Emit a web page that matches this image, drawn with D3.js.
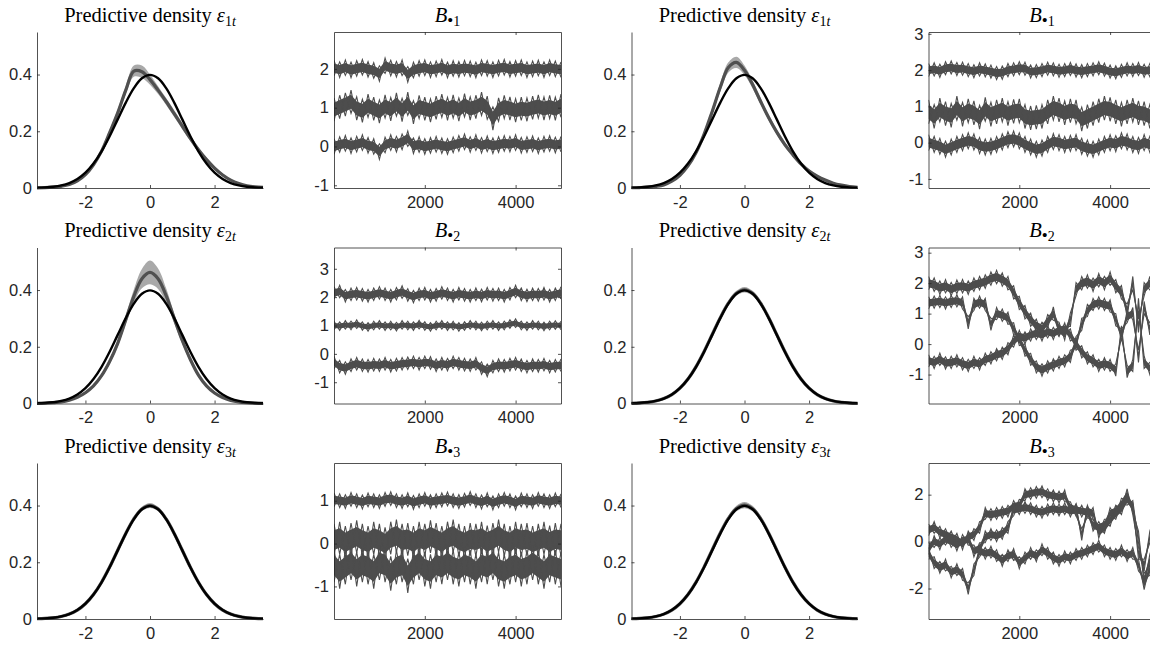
<!DOCTYPE html>
<html>
<head>
<meta charset="utf-8">
<script src="https://cdn.jsdelivr.net/npm/d3@7"></script>
<style>
  body { margin: 0; background: #fff; }
  svg { display: block; }
</style>
</head>
<body>
<script>
// grid of the predictive densities
const densX = [-3.5,-3.25,-3,-2.75,-2.5,-2.25,-2,-1.75,-1.5,-1.25,-1,-0.75,-0.5,-0.25,0,0.25,0.5,0.75,1,1.25,1.5,1.75,2,2.25,2.5,2.75,3,3.25,3.5]
// reference N(0,1) density, tabulated
const normalPdf = [0.0009,0.0020,0.0044,0.0091,0.0175,0.0317,0.0540,0.0863,0.1295,0.1826,0.2420,0.3011,0.3521,0.3867,0.3989,0.3867,0.3521,0.3011,0.2420,0.1826,0.1295,0.0863,0.0540,0.0317,0.0175,0.0091,0.0044,0.0020,0.0009]

// posterior mean of predictive densities + half width of the band
const pred11 = [0.0006,0.0013,0.003,0.006,0.012,0.025,0.047,0.082,0.13,0.195,0.265,0.345,0.412,0.41,0.382,0.345,0.305,0.262,0.218,0.175,0.135,0.1,0.07,0.046,0.028,0.016,0.008,0.004,0.002]
const band11 = [0,0,0.001,0.001,0.002,0.003,0.004,0.006,0.008,0.01,0.012,0.015,0.02,0.022,0.018,0.014,0.012,0.012,0.011,0.01,0.009,0.008,0.007,0.005,0.004,0.003,0.002,0.001,0]
const pred21 = [0.0004,0.001,0.003,0.006,0.012,0.022,0.038,0.062,0.098,0.148,0.212,0.295,0.378,0.44,0.462,0.44,0.38,0.3,0.222,0.155,0.1,0.062,0.037,0.021,0.011,0.0055,0.0027,0.0012,0.0005]
const band21 = [0,0,0.001,0.001,0.002,0.003,0.004,0.005,0.007,0.009,0.012,0.016,0.024,0.034,0.042,0.036,0.026,0.017,0.012,0.009,0.007,0.005,0.004,0.003,0.002,0.001,0.001,0,0]
const pred31 = [0.0009,0.002,0.0044,0.009,0.0173,0.0314,0.0538,0.0862,0.1296,0.1830,0.2426,0.3018,0.3530,0.3878,0.4000,0.3876,0.3527,0.3016,0.2424,0.1828,0.1296,0.0862,0.0539,0.0316,0.0175,0.0091,0.0044,0.002,0.0009]
const band31 = [0,0,0,0.001,0.001,0.001,0.002,0.003,0.003,0.004,0.005,0.006,0.007,0.008,0.009,0.008,0.007,0.006,0.005,0.004,0.003,0.003,0.002,0.001,0.001,0.001,0,0,0]
const pred13 = [0.0008,0.0016,0.003,0.006,0.011,0.024,0.045,0.078,0.125,0.19,0.27,0.355,0.425,0.443,0.415,0.365,0.305,0.248,0.197,0.153,0.117,0.085,0.06,0.042,0.028,0.017,0.01,0.005,0.0025]
const band13 = [0,0,0.001,0.001,0.002,0.003,0.004,0.006,0.008,0.01,0.012,0.015,0.018,0.02,0.017,0.014,0.012,0.011,0.01,0.009,0.008,0.007,0.006,0.005,0.004,0.003,0.002,0.001,0]
const pred23 = [0.0008,0.0019,0.0043,0.0090,0.0174,0.0316,0.0541,0.0866,0.1302,0.1836,0.2432,0.3025,0.3537,0.3886,0.4010,0.3885,0.3535,0.3022,0.2428,0.1832,0.1298,0.0864,0.0540,0.0316,0.0174,0.0090,0.0043,0.0019,0.0008]
const band23 = [0,0,0,0.001,0.001,0.002,0.002,0.003,0.004,0.005,0.006,0.007,0.008,0.009,0.01,0.009,0.008,0.007,0.006,0.005,0.004,0.003,0.002,0.002,0.001,0.001,0,0,0]
const pred33 = [0.0008,0.0019,0.0043,0.0089,0.0172,0.0313,0.0538,0.0864,0.1301,0.1838,0.2437,0.3031,0.3545,0.3893,0.4015,0.3890,0.3540,0.3026,0.2430,0.1833,0.1298,0.0863,0.0539,0.0315,0.0174,0.0090,0.0043,0.0019,0.0008]
const band33 = [0,0,0,0.001,0.001,0.002,0.002,0.003,0.004,0.005,0.006,0.007,0.009,0.01,0.011,0.01,0.009,0.007,0.006,0.005,0.004,0.003,0.002,0.002,0.001,0.001,0,0,0]

const iters = [0,125,250,375,500,625,750,875,1000,1125,1250,1375,1500,1625,1750,1875,2000,2125,2250,2375,2500,2625,2750,2875,3000,3125,3250,3375,3500,3625,3750,3875,4000,4125,4250,4375,4500,4625,4750,4875,5000]

// B.1, left model
const b1L_a = [2.02,1.98,2.03,1.97,2.01,2.04,1.99,1.96,1.88,2.08,2.02,1.99,2.03,1.86,1.97,2.01,2.03,1.98,2.00,2.04,1.97,2.01,1.99,2.02,2.00,1.97,2.03,2.01,1.98,2.02,2.04,1.99,2.01,2.03,1.98,2.00,2.02,1.98,2.03,2.00,1.98]
const b1L_b = [0.95,1.02,1.08,1.15,0.98,0.92,1.05,0.97,0.9,1.03,0.96,1.08,0.94,1.1,0.88,1.02,0.97,0.93,1.0,1.05,0.97,1.03,0.95,1.06,0.98,1.02,1.1,1.0,0.72,0.95,1.02,0.98,0.93,0.97,0.95,1.0,1.03,0.98,1.02,0.97,1.05]
const b1L_c = [0.0,0.05,0.08,0.02,0.06,0.1,0.03,0.0,-0.13,0.04,0.1,0.06,0.12,0.2,0.02,0.05,0.0,0.03,0.06,0.02,0.0,0.04,0.08,0.12,0.05,0.1,0.03,0.07,0.02,0.05,0.08,0.06,0.1,0.03,0.05,0.07,0.02,0.06,0.08,0.04,0.06]
// B.1, right model
const b1R_a = [2.0,2.02,1.98,2.05,2.07,2.03,2.04,2.0,1.97,2.02,1.99,1.96,1.92,1.93,2.0,2.02,2.05,2.04,1.96,1.97,2.0,2.04,2.02,1.98,2.0,2.03,1.99,1.97,2.0,2.02,2.05,2.01,1.96,1.94,1.98,2.02,2.0,2.03,1.98,2.0,2.02]
const b1R_b = [0.85,0.72,0.9,0.8,0.75,0.95,0.78,0.88,0.82,0.7,0.92,0.78,0.85,0.9,0.8,0.86,0.88,0.72,0.68,0.7,0.72,0.85,0.95,0.9,0.82,0.88,0.85,0.65,0.72,0.8,0.88,0.95,0.92,0.85,0.78,0.85,0.9,0.82,0.8,0.72,0.85]
const b1R_c = [0.0,-0.05,-0.1,-0.18,-0.12,-0.05,0.0,0.05,0.02,-0.08,-0.12,-0.1,-0.05,0.02,0.08,0.1,0.05,-0.05,-0.12,-0.18,-0.15,-0.05,0.03,0.0,-0.05,-0.02,0.0,-0.1,-0.15,-0.18,-0.12,-0.05,0.0,-0.03,0.05,0.02,-0.05,-0.08,0.0,-0.05,-0.1]
// B.2
const b2L_a = [2.15,2.2,2.05,2.1,2.12,2.08,2.05,2.1,2.15,2.1,2.05,2.12,2.18,2.08,2.02,2.1,2.12,2.05,2.08,2.15,2.1,2.05,2.12,2.08,2.05,2.1,2.06,2.12,2.08,2.1,2.05,2.12,2.2,2.1,2.06,2.1,2.08,2.12,2.05,2.1,2.15]
const b2L_b = [1.0,0.98,1.02,1.0,1.05,0.98,0.95,1.0,1.02,0.98,1.0,0.96,1.02,1.0,0.98,1.03,0.98,0.95,1.0,1.02,0.98,1.0,0.95,0.98,1.02,1.0,0.97,1.0,1.02,0.98,1.0,1.05,1.08,1.0,0.98,1.02,1.0,0.97,1.0,1.02,1.0]
const b2L_c = [-0.3,-0.45,-0.5,-0.4,-0.35,-0.4,-0.42,-0.38,-0.4,-0.35,-0.42,-0.38,-0.35,-0.33,-0.3,-0.35,-0.3,-0.32,-0.4,-0.35,-0.38,-0.3,-0.35,-0.38,-0.4,-0.35,-0.5,-0.58,-0.45,-0.4,-0.42,-0.38,-0.35,-0.4,-0.45,-0.4,-0.42,-0.38,-0.45,-0.42,-0.4]
const b2R_a = [2.0,1.95,1.85,1.9,1.8,1.88,1.9,1.85,1.95,2.0,2.05,2.15,2.2,2.12,2.0,1.7,1.35,1.05,0.8,0.6,0.5,0.75,1.0,0.5,0.35,0.8,1.8,2.0,2.05,1.95,2.1,2.0,2.15,1.9,1.7,1.1,2.0,0.6,1.8,2.0,1.6]
const b2R_b = [1.35,1.38,1.4,1.35,1.4,1.42,1.35,0.7,1.3,1.38,1.3,0.65,1.0,0.95,0.85,0.5,0.15,-0.2,-0.5,-0.75,-0.85,-0.75,-0.68,-0.6,-0.55,-0.4,0.05,0.65,1.1,1.3,1.35,1.3,1.25,0.8,0.3,0.9,1.0,-0.4,1.2,0.5,1.2]
const b2R_c = [-0.55,-0.6,-0.5,-0.62,-0.6,-0.55,-0.65,-0.7,-0.6,-0.65,-0.5,-0.45,-0.35,-0.3,-0.15,0.1,0.25,0.2,0.3,0.35,0.3,0.4,0.35,0.45,0.5,0.3,0.0,-0.25,-0.45,-0.55,-0.7,-0.65,-0.7,-0.85,0.4,-0.9,-0.7,1.3,-0.6,-0.8,-0.5]
// B.3
const b3L_a = [1.02,1.0,0.98,1.03,1.0,0.97,1.02,1.0,0.98,1.03,1.05,1.0,0.98,1.02,0.96,1.0,1.03,0.98,1.0,1.02,1.04,1.0,0.98,1.01,1.05,1.0,0.97,1.02,0.95,1.0,1.03,1.0,0.95,1.02,1.0,0.98,1.03,1.0,0.98,1.02,1.0]
const b3L_b = [0.08,0.13,0.03,0.1,0.16,0.08,0.03,0.13,0.08,0.0,0.13,0.18,0.08,0.1,0.03,0.13,0.08,0.16,0.1,0.03,0.13,0.18,0.08,0.03,0.1,0.08,0.13,0.04,0.1,0.18,0.08,0.03,0.13,0.08,0.1,0.03,0.08,0.13,0.04,0.1,0.08]
const b3L_c = [-0.5,-0.65,-0.55,-0.45,-0.6,-0.5,-0.55,-0.65,-0.45,-0.5,-0.7,-0.55,-0.5,-0.75,-0.55,-0.45,-0.6,-0.65,-0.5,-0.55,-0.45,-0.55,-0.6,-0.5,-0.55,-0.65,-0.5,-0.55,-0.45,-0.6,-0.65,-0.55,-0.5,-0.6,-0.55,-0.45,-0.55,-0.65,-0.5,-0.55,-0.6]
const b3R_a = [0.5,0.6,0.4,0.3,0.2,0.1,-0.1,0.2,0.3,0.6,1.2,1.15,1.2,1.25,1.3,1.5,1.55,2.0,2.05,2.1,2.12,2.0,1.95,1.9,1.95,1.45,1.35,1.3,1.25,0.7,0.6,0.7,1.2,1.3,1.6,2.0,1.4,-0.5,-1.0,0.2,1.4]
const b3R_b = [-0.3,0.0,-0.1,0.1,0.0,-0.15,0.05,0.1,-0.4,-0.3,0.2,0.3,0.25,0.35,0.6,1.35,1.4,1.45,1.4,1.3,1.25,1.35,1.4,1.35,1.4,1.3,1.35,0.3,1.3,1.2,0.4,0.6,0.9,1.2,1.4,1.8,1.5,0.2,-1.6,-0.8,0.5]
const b3R_c = [-0.5,-0.9,-1.1,-1.0,-1.3,-1.2,-1.4,-2.0,-1.2,-0.4,-0.5,-0.45,-0.6,-0.8,-0.6,-0.55,-0.9,-0.7,-0.5,-0.6,-0.35,-0.5,-0.7,-0.8,-0.65,-0.7,-0.55,-0.5,-0.4,-0.3,-0.2,-0.4,-0.5,-0.55,-0.4,-0.6,-0.5,-1.0,-1.8,-1.2,-0.3]

const spreadB1L = [0.2, 0.3, 0.2]
const spreadB1R = [0.18, 0.33, 0.22]
const spreadB2L = [0.22, 0.15, 0.22]
const spreadB2R = [0.22, 0.2, 0.2]
const spreadB3L = [0.16, 0.38, 0.4]
const spreadB3R = [0.25, 0.25, 0.25]

const W = 1150, H = 646
const colX = [37, 334, 631.5, 928.5]
const rowY = [32, 247.5, 463]
const densW = 226, traceW = 227, panelH = 156
const axisCol = '#262626'
const traceCol = '#4d4d4d'
const sansFont = '"Liberation Sans", Arial, Helvetica, sans-serif'
const serifFont = '"Liberation Serif", "Times New Roman", serif'

const svg = d3.select('body').append('svg')
    .attr('width', W)
    .attr('height', H)

const styleAxis = (g) => {
    g.attr('font-family', sansFont).attr('font-size', 16.5)
    g.selectAll('.domain').attr('stroke', axisCol).attr('stroke-width', 0.8)
    g.selectAll('.tick line').attr('stroke', axisCol).attr('stroke-width', 0.8)
    g.selectAll('.tick text').attr('fill', axisCol)
}

const densityPanel = (col, row, mean, band, k) => {
    let x0 = colX[col], y0 = rowY[row]
    let x = d3.scaleLinear().domain([-3.5, 3.5]).range([x0, x0 + densW])
    let y = d3.scaleLinear().domain([0, 0.55]).range([y0 + panelH, y0])
    let pts = densX.map((v, i) => ({x: v, m: mean[i], b: band[i], n: normalPdf[i]}))
    let g = svg.append('g')

    g.append('path').datum(pts)
        .attr('d', d3.area().x(d => x(d.x)).y0(d => y(d.m - d.b)).y1(d => y(d.m + d.b)).curve(d3.curveCatmullRom))
        .attr('fill', '#a9a9a9')
    g.append('path').datum(pts)
        .attr('d', d3.line().x(d => x(d.x)).y(d => y(d.m)).curve(d3.curveCatmullRom))
        .attr('fill', 'none').attr('stroke', '#505050').attr('stroke-width', 3.2)
    g.append('path').datum(pts)
        .attr('d', d3.line().x(d => x(d.x)).y(d => y(d.n)).curve(d3.curveCatmullRom))
        .attr('fill', 'none').attr('stroke', '#000').attr('stroke-width', 2.4)

    g.append('g').attr('transform', `translate(${x0},0)`)
        .call(d3.axisLeft(y).tickValues([0, 0.2, 0.4]).tickFormat(d => String(d))
            .tickSizeInner(-3).tickSizeOuter(0).tickPadding(5))
        .call(styleAxis)
    g.append('g').attr('transform', `translate(0,${y0 + panelH})`)
        .call(d3.axisBottom(x).tickValues([-2, 0, 2]).tickFormat(d => String(d))
            .tickSizeInner(-3).tickSizeOuter(0).tickPadding(8))
        .call(styleAxis)

    let t = g.append('text')
        .attr('x', x0 + densW / 2).attr('y', y0 - 10.5)
        .attr('text-anchor', 'middle')
        .attr('font-family', serifFont).attr('font-size', 20.5).attr('fill', '#000')
    t.append('tspan').text('Predictive density ')
    t.append('tspan').attr('font-style', 'italic').text('\u03b5')
    t.append('tspan').attr('font-size', 14).attr('dy', 4).text(k)
    t.append('tspan').attr('font-size', 14).attr('font-style', 'italic').text('t')
}

const tracePanel = (col, row, chains, spread, yDomain, yTicks, k) => {
    let x0 = colX[col], y0 = rowY[row]
    let x = d3.scaleLinear().domain([0, 5000]).range([x0, x0 + traceW])
    let y = d3.scaleLinear().domain(yDomain).range([y0 + panelH, y0])
    let clipId = `clip-${col}-${row}`
    svg.append('clipPath').attr('id', clipId)
        .append('rect').attr('x', x0).attr('y', y0).attr('width', traceW).attr('height', panelH)
    let g = svg.append('g')
    let plot = g.append('g').attr('clip-path', `url(#${clipId})`)

    chains.forEach((c, j) => {
        let s = spread[j]
        let pts = iters.map((it, i) => ({it: it, v: c[i], side: i % 2 ? -1 : 1}))
        // solid core of the chain
        plot.append('path').datum(pts)
            .attr('d', d3.area().x(d => x(d.it)).y0(d => y(d.v - 0.6 * s)).y1(d => y(d.v + 0.6 * s)))
            .attr('fill', traceCol)
        // jagged outer edge, alternating between the band limits
        plot.append('path').datum(pts)
            .attr('d', d3.line().x(d => x(d.it)).y(d => y(d.v + d.side * s)))
            .attr('fill', 'none').attr('stroke', traceCol).attr('stroke-width', 1.1)
        plot.append('path').datum(pts)
            .attr('d', d3.line().x(d => x(d.it)).y(d => y(d.v - d.side * s)))
            .attr('fill', 'none').attr('stroke', traceCol).attr('stroke-width', 1.1)
    })

    let xt = [2000, 4000]
    g.append('g').attr('transform', `translate(${x0},0)`)
        .call(d3.axisLeft(y).tickValues(yTicks).tickFormat(d => String(d))
            .tickSizeInner(-3).tickSizeOuter(0).tickPadding(5))
        .call(styleAxis)
    g.append('g').attr('transform', `translate(${x0 + traceW},0)`)
        .call(d3.axisRight(y).tickValues(yTicks).tickFormat('').tickSizeInner(-3).tickSizeOuter(0))
        .call(styleAxis)
    g.append('g').attr('transform', `translate(0,${y0 + panelH})`)
        .call(d3.axisBottom(x).tickValues(xt).tickFormat(d => String(d))
            .tickSizeInner(-3).tickSizeOuter(0).tickPadding(8))
        .call(styleAxis)
    g.append('g').attr('transform', `translate(0,${y0})`)
        .call(d3.axisTop(x).tickValues(xt).tickFormat('').tickSizeInner(-3).tickSizeOuter(0))
        .call(styleAxis)

    let t = g.append('text')
        .attr('x', x0 + traceW / 2).attr('y', y0 - 10.5)
        .attr('text-anchor', 'middle')
        .attr('font-family', serifFont).attr('font-size', 20.5).attr('fill', '#000')
    t.append('tspan').attr('font-style', 'italic').text('B')
    t.append('tspan').attr('font-size', 17).attr('dy', 4).text('\u2022')
    t.append('tspan').attr('font-size', 14).text(k)
}

densityPanel(0, 0, pred11, band11, '1')
densityPanel(0, 1, pred21, band21, '2')
densityPanel(0, 2, pred31, band31, '3')
densityPanel(2, 0, pred13, band13, '1')
densityPanel(2, 1, pred23, band23, '2')
densityPanel(2, 2, pred33, band33, '3')

tracePanel(1, 0, [b1L_a, b1L_b, b1L_c], spreadB1L, [-1.07, 2.95], [-1, 0, 1, 2], '1')
tracePanel(1, 1, [b2L_a, b2L_b, b2L_c], spreadB2L, [-1.75, 3.75], [-1, 0, 1, 2, 3], '2')
tracePanel(1, 2, [b3L_a, b3L_b, b3L_c], spreadB3L, [-1.76, 1.88], [-1, 0, 1], '3')
tracePanel(3, 0, [b1R_a, b1R_b, b1R_c], spreadB1R, [-1.25, 3.05], [-1, 0, 1, 2, 3], '1')
tracePanel(3, 1, [b2R_a, b2R_b, b2R_c], spreadB2R, [-1.95, 3.17], [-1, 0, 1, 2, 3], '2')
tracePanel(3, 2, [b3R_a, b3R_b, b3R_c], spreadB3R, [-3.3, 3.35], [-2, 0, 2], '3')
</script>
</body>
</html>
